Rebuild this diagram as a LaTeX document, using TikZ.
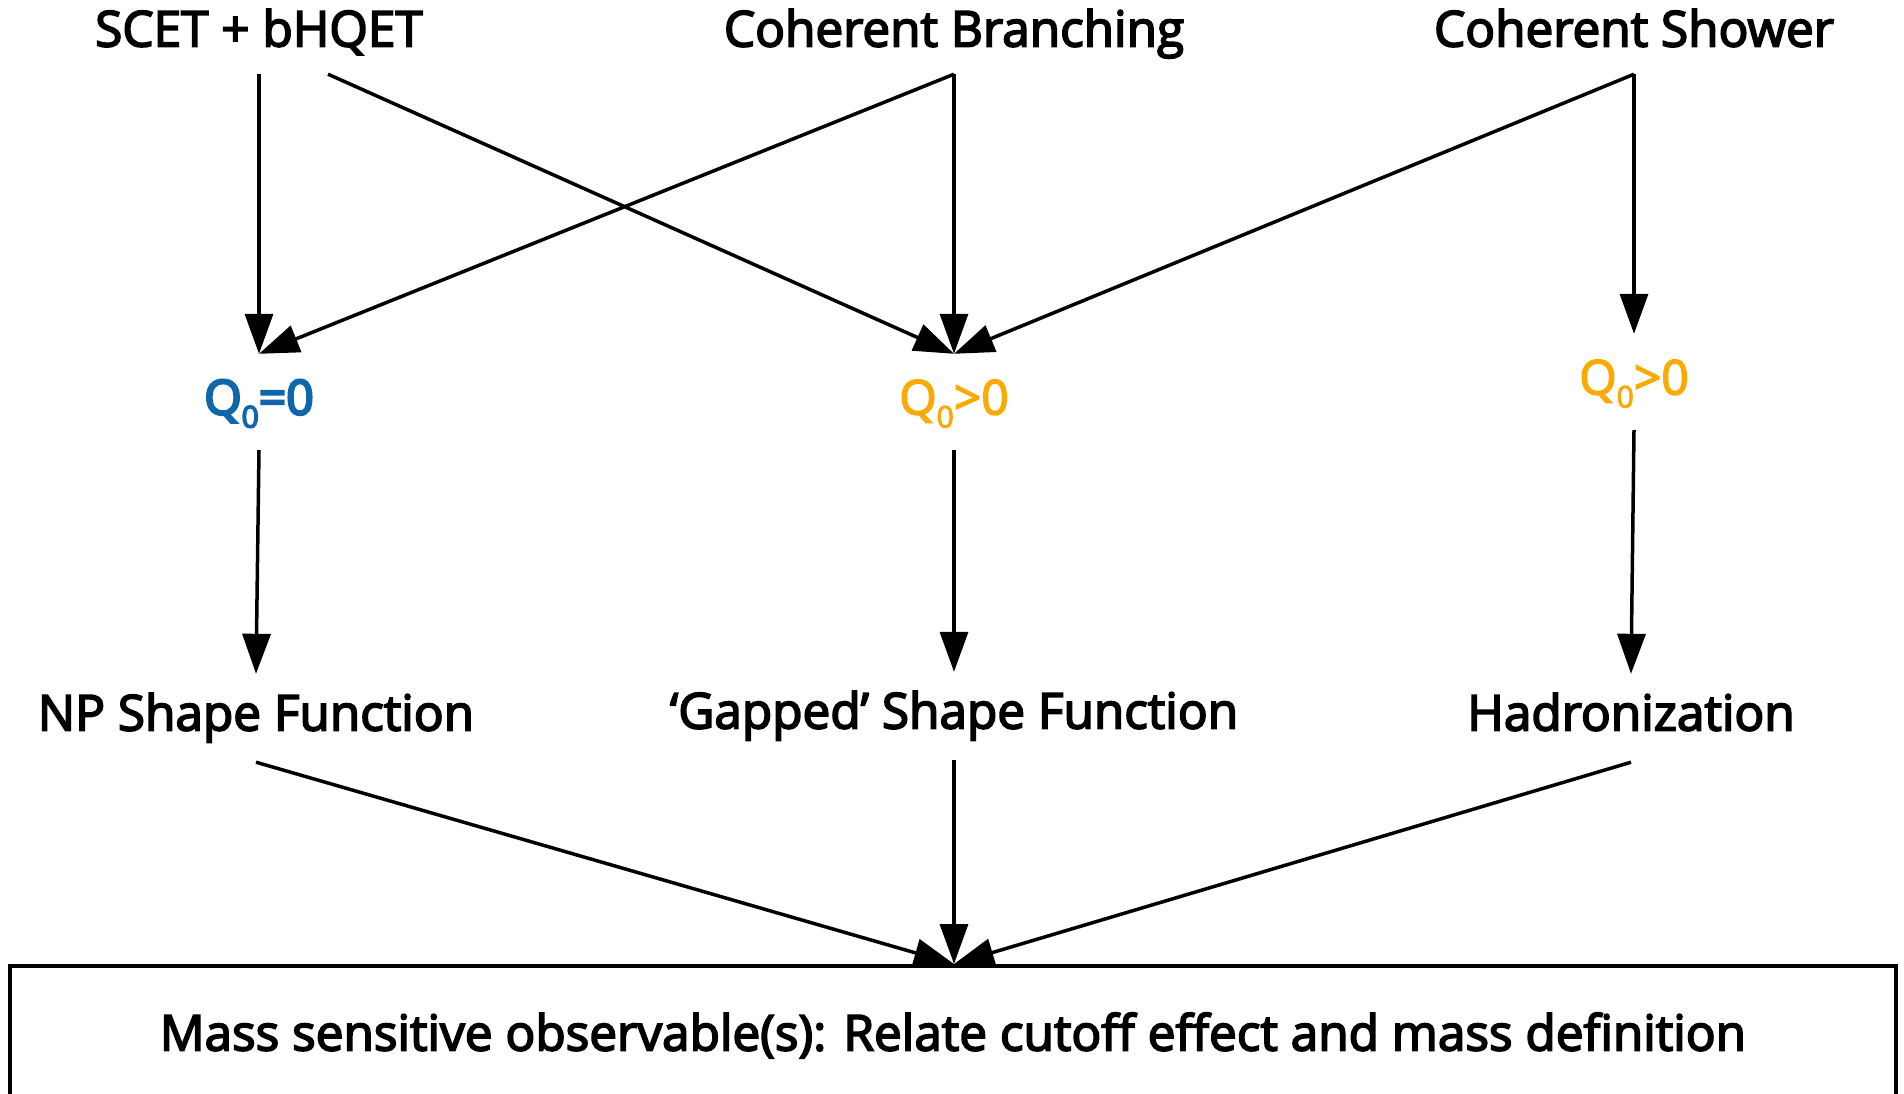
\documentclass[tikz,border=0pt]{standalone}
\usepackage{fontspec}
\setmainfont{Open Sans}
\newfontfamily\blackfont{Open Sans}[FakeBold=3.5]
\newfontfamily\qfont{Open Sans}[FakeBold=3]
\newfontfamily\qboldfont{Open Sans}[FakeBold=5]
\usetikzlibrary{arrows.meta}
\definecolor{qblue}{RGB}{16,102,170}
\definecolor{qorange}{RGB}{250,170,0}
\tikzset{
  flow/.style={line width=3.5pt, -{Triangle[length=40pt,width=28pt]}},
  txt/.style={font=\fontsize{49.5}{58}\blackfont, inner sep=0pt,
                text height=35pt, text depth=10pt},
  srcnode/.style={txt, minimum height=80pt},
  qnode/.style={inner sep=0pt, text height=35pt, text depth=10pt, minimum height=96pt},
  outnode/.style={txt, minimum height=88pt},
  resultbox/.style={draw, line width=3.5pt, minimum width=1886pt, minimum height=140pt,
                inner sep=0pt}
}
\newcommand{\qsub}{\raisebox{-13pt}{\fontsize{30}{30}\selectfont 0}}
\begin{document}
\begin{tikzpicture}[x=1pt,y=-1pt]
\path[use as bounding box, clip] (0,0) rectangle (1904,1094);
\fill[white] (0,0) rectangle (1904,1094);

% sources
\node[srcnode] (scet) at (259,34) {SCET + bHQET};
\node[srcnode] (cb) at (954,34) {Coherent Branching};
\node[srcnode] (cs) at (1634,34) {Coherent Shower};

% cutoff choices
\node[qnode, text=qblue, font=\fontsize{48}{58}\qboldfont] (qa) at (259,402) {Q\qsub=0};
\node[qnode, text=qorange, font=\fontsize{48}{58}\qfont] (qb) at (954,402) {Q\qsub>0};
\node[qnode, text=qorange, font=\fontsize{48}{58}\qfont] (qc) at (1634,382) {Q\qsub>0};

% nonperturbative treatment
\node[outnode] (np) at (256,718) {NP Shape Function};
\node[outnode] (gap) at (954,716) {‘Gapped’ Shape Function};
\node[outnode] (had) at (1631,718) {Hadronization};

% result box (runs past the lower edge) and its caption
\node[resultbox, anchor=north] (res) at (953,964) {};
\node[txt] (restext) at (953,1038) {Mass sensitive observable(s): Relate cutoff effect and mass definition};

% connectors
\draw[flow] (scet.south) -- (qa.north);
\draw[flow] ([xshift=69pt]scet.south) -- (qb.north);
\draw[flow] (cb.south) -- (qa.north);
\draw[flow] (cb.south) -- (qb.north);
\draw[flow] (cs.south) -- (qb.north);
\draw[flow] (cs.south) -- (qc.north);

\draw[flow] (qa.south) -- (np.north);
\draw[flow] (qb.south) -- (gap.north);
\draw[flow] (qc.south) -- (had.north);

\draw[flow] (np.south) -- ([xshift=1pt]res.north);
\draw[flow] (gap.south) -- ([xshift=1pt]res.north);
\draw[flow] (had.south) -- ([xshift=1pt]res.north);
\end{tikzpicture}
\end{document}
